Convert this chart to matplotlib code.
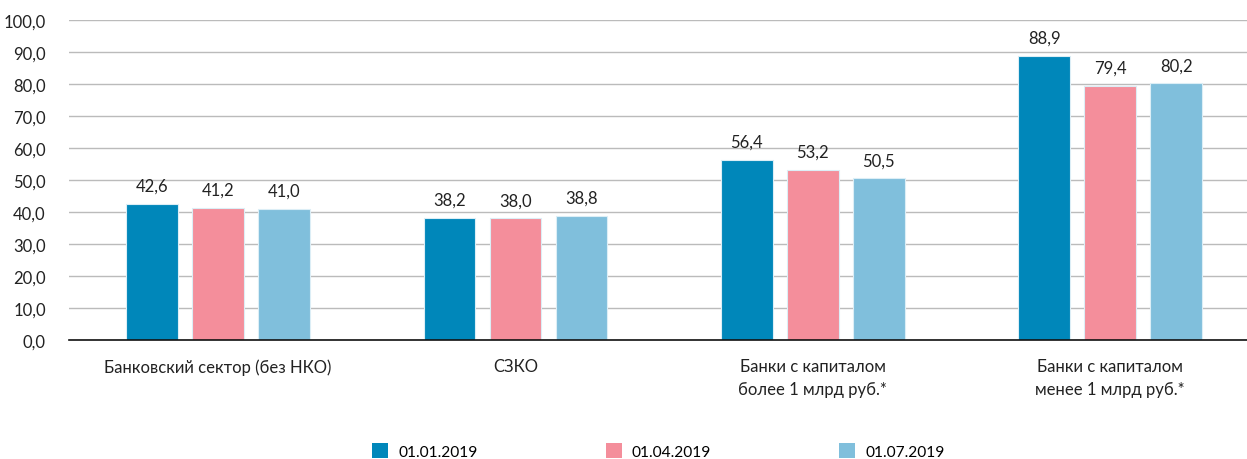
import numpy as np
import matplotlib.pyplot as plt
from matplotlib.patches import Patch

plt.rcParams['font.family'] = ['Lato', 'DejaVu Sans']

# data
categories = ['Банковский сектор (без НКО)', 'СЗКО',
              'Банки с капиталом\nболее 1 млрд руб.*',
              'Банки с капиталом\nменее 1 млрд руб.*']
series_names = ['01.01.2019', '01.04.2019', '01.07.2019']
jan = [42.6, 38.2, 56.4, 88.9]
apr = [41.2, 38.0, 53.2, 79.4]
jul = [41.0, 38.8, 50.5, 80.2]
colors = ['#0087BA', '#F48E9B', '#80BFDC']

def fmt(v):
    return ('%.1f' % v).replace('.', ',')

fig = plt.figure(figsize=(12.47, 4.60), dpi=100)
ax = fig.add_axes([0.0556, 0.2587, 0.954, 0.6956])

x = np.arange(len(categories))
width = 0.174
step = 0.222
for i, vals in enumerate([jan, apr, jul]):
    pos = x + (i - 1) * step
    ax.bar(pos, vals, width, color=colors[i], edgecolor='#DCEEF6', linewidth=0.8, zorder=3)
    for p, v in zip(pos, vals):
        ax.text(p, v + 3.2, fmt(v), ha='center', va='bottom', fontsize=12, color='#222222')

ax.set_xlim(-0.5, len(categories) - 0.5)
ax.set_ylim(0, 100)
ax.set_yticks(np.arange(0, 101, 10))
ax.set_yticklabels([fmt(v) for v in np.arange(0, 101, 10)], fontsize=12, color='#222222')
ax.set_xticks(x)
ax.set_xticklabels(categories, fontsize=12, color='#222222', linespacing=1.55, va='top')
ax.tick_params(axis='both', length=0)
ax.tick_params(axis='x', pad=13)
ax.tick_params(axis='y', pad=17)
ax.grid(axis='y', color='#BBBBBB', linewidth=1, zorder=0)
for s in ['top', 'right', 'left']:
    ax.spines[s].set_visible(False)
ax.spines['bottom'].set_color('#111111')
ax.spines['bottom'].set_linewidth(1.2)
ax.spines['bottom'].set_zorder(4)

handles = [Patch(facecolor=c, edgecolor='none') for c in colors]
fig.legend(handles, series_names, loc='center', bbox_to_anchor=(0.528, 0.017),
           ncol=3, frameon=False, fontsize=11.2, handlelength=1.05, handleheight=1.05,
           handletextpad=0.65, columnspacing=8.2)

fig.savefig('out.png', dpi=100)
